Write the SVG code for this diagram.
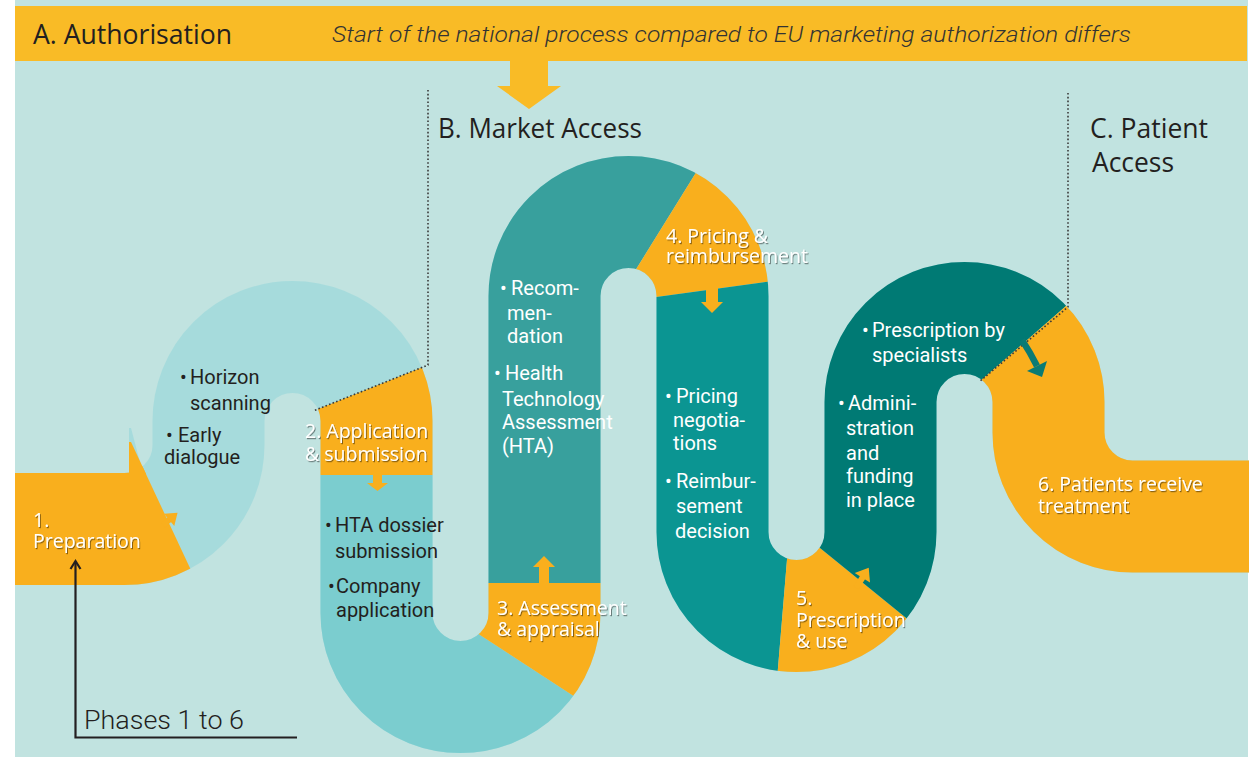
<svg xmlns="http://www.w3.org/2000/svg" width="1256" height="757" viewBox="0 0 1256 757">
<style>
.or{fill:#F9AF1D}
.t1{font-family:Roboto,'Liberation Sans',sans-serif;font-size:20px}
.dk{fill:#231F20}
.wt{fill:#ffffff}
.ph{font-family:'Open Sans','Liberation Sans',sans-serif;font-size:19.5px;fill:#ffffff}
.hd{font-family:'Open Sans','Liberation Sans',sans-serif;font-size:27px;fill:#231F20}
.dot{fill:none;stroke:#3a3a3a;stroke-width:1.6;stroke-dasharray:1.6 2.2}
</style>
<defs>
<mask id="rib" maskUnits="userSpaceOnUse" x="0" y="0" width="1256" height="757">
<path d="M15,529 H124.5 A84,84 0 0 0 208.5,445 V421 A84,84 0 0 1 376.5,421 V613 A84,84 0 0 0 544.5,613 V296 A84,84 0 0 1 712.5,296 V532 A84,84 0 0 0 880.5,532 V402 A84,84 0 0 1 1048.5,402 V432.5 A84,84 0 0 0 1132.5,516.5 H1249" fill="none" stroke="#fff" stroke-width="112"/>
</mask>
<filter id="sh" x="-10%" y="-30%" width="120%" height="160%">
<feDropShadow dx="1" dy="1.2" stdDeviation="0.7" flood-color="#000" flood-opacity="0.45"/>
</filter>
</defs>

<rect x="0" y="0" width="1256" height="757" fill="#ffffff"/>
<rect x="15" y="0" width="1233" height="757" fill="#C1E3E0"/>

<g id="banner">
<rect x="15" y="6" width="1232" height="55" fill="#F9BB26"/>
<polygon points="510,60 548,60 548,86 561,86 529,109 497,86 510,86" fill="#F9BB26"/>
<text class="hd" x="33" y="44" textLength="199" lengthAdjust="spacingAndGlyphs">A. Authorisation</text>
<text x="332" y="42" font-family="Roboto,'Liberation Sans',sans-serif" font-weight="300" font-style="italic" font-size="22.5" fill="#333333" textLength="799" lengthAdjust="spacingAndGlyphs">Start of the national process compared to EU marketing authorization differs</text>
</g>

<g id="section-labels">
<text class="hd" x="438" y="138" textLength="204" lengthAdjust="spacingAndGlyphs">B. Market Access</text>
<text class="hd" x="1090" y="138" textLength="118" lengthAdjust="spacingAndGlyphs">C. Patient</text>
<text class="hd" x="1092" y="172" textLength="82" lengthAdjust="spacingAndGlyphs">Access</text>
</g>

<g id="arc1-horizon">
<rect x="0" y="0" width="1256" height="757" fill="#A6DBDC" mask="url(#rib)"/>
<polygon points="129,443 129,428 131,428 141,466 137,466" fill="#A6DBDC"/>
<text class="t1 dk"><tspan x="180" y="384">•</tspan><tspan x="190" y="384">Horizon</tspan><tspan x="190" y="410">scanning</tspan><tspan x="166" y="442">•</tspan><tspan x="178" y="442">Early</tspan><tspan x="164" y="464">dialogue</tspan></text>
</g>

<g id="phase1">
<polygon class="or" points="0,300 64.5,300 251.8,700 0,700" mask="url(#rib)"/>
<polygon class="or" points="129,474 129,442 131,442 146,474"/>
<text class="ph" filter="url(#sh)"><tspan x="33" y="527">1.</tspan><tspan x="33" y="548">Preparation</tspan></text>
</g>

<g id="phase2">
<polygon class="or" points="300,416.2 460,352.2 460,475 300,475" mask="url(#rib)"/>
<text class="ph" filter="url(#sh)"><tspan x="305" y="438">2. Application</tspan><tspan x="305" y="461">&amp; submission</tspan></text>
</g>

<g id="u2-dossier">
<polygon points="300,475 470,475 470,628.5 620,726.3 620,760 300,760" fill="#7BCDCF" mask="url(#rib)"/>
<text class="t1 dk"><tspan x="325" y="532">•</tspan><tspan x="335" y="532">HTA dossier</tspan><tspan x="335" y="558">submission</tspan><tspan x="328" y="593">•</tspan><tspan x="336" y="593">Company</tspan><tspan x="336" y="617">application</tspan></text>
</g>

<g id="phase3">
<polygon class="or" points="470,583 620,583 620,726.3 470,628.5" mask="url(#rib)"/>
<text class="ph" filter="url(#sh)"><tspan x="497" y="615">3. Assessment</tspan><tspan x="497" y="636">&amp; appraisal</tspan></text>
</g>

<g id="arc3-hta">
<polygon points="470,583 620,583 617,300 741,100 470,100" fill="#38A09D" mask="url(#rib)"/>
<text class="t1 wt"><tspan x="500" y="295">•</tspan><tspan x="511" y="295">Recom-</tspan><tspan x="507" y="320">men-</tspan><tspan x="507" y="343">dation</tspan><tspan x="494" y="380">•</tspan><tspan x="505" y="380">Health</tspan><tspan x="502" y="406">Technology</tspan><tspan x="502" y="429">Assessment</tspan><tspan x="502" y="453">(HTA)</tspan></text>
</g>

<g id="phase4">
<polygon class="or" points="617,300 741,100 800,100 800,277.3 620,302" mask="url(#rib)"/>
<text class="ph" filter="url(#sh)"><tspan x="666" y="243">4. Pricing &amp;</tspan><tspan x="666" y="263">reimbursement</tspan></text>
</g>

<g id="u4-pricing">
<polygon points="620,302 800,277.3 800,520 790.3,520 775.3,700 620,700" fill="#0B9592" mask="url(#rib)"/>
<text class="t1 wt"><tspan x="665" y="403">•</tspan><tspan x="676" y="403">Pricing</tspan><tspan x="673" y="427">negotia-</tspan><tspan x="673" y="450">tions</tspan><tspan x="665" y="488">•</tspan><tspan x="676" y="488">Reimbur-</tspan><tspan x="676" y="513">sement</tspan><tspan x="675" y="538">decision</tspan></text>
</g>

<g id="phase5">
<polygon class="or" points="790.3,520 800,531.8 960,661.8 960,720 773.7,720" mask="url(#rib)"/>
<text class="ph" filter="url(#sh)"><tspan x="796" y="605">5.</tspan><tspan x="796" y="627">Prescription</tspan><tspan x="796" y="648">&amp; use</tspan></text>
</g>

<g id="arc5-prescription">
<polygon points="800,531.8 800,200 1187.3,200 964.1,395 960,661.8" fill="#007A74" mask="url(#rib)"/>
<text class="t1 wt"><tspan x="862" y="337">•</tspan><tspan x="872" y="337">Prescription by</tspan><tspan x="872" y="362">specialists</tspan><tspan x="838" y="410">•</tspan><tspan x="848" y="410">Admini-</tspan><tspan x="846" y="435">stration</tspan><tspan x="846" y="460">and</tspan><tspan x="846" y="483">funding</tspan><tspan x="846" y="507">in place</tspan></text>
</g>

<g id="phase6">
<polygon class="or" points="1187.3,200 1260,200 1260,760 960,760 964.1,395" mask="url(#rib)"/>
<text class="ph" filter="url(#sh)"><tspan x="1038" y="491">6. Patients receive</tspan><tspan x="1038" y="513">treatment</tspan></text>
</g>

<g id="connectors">
<path class="dot" d="M428,90 V365 L313,411"/>
<path class="dot" d="M1068,93 V307 L979,382"/>
<g transform="translate(163,525) rotate(-40)" class="or"><rect x="0" y="-3" width="10" height="6"/><polygon points="8,-8 19,0 8,8"/></g>
<g class="or"><rect x="373" y="474" width="9" height="10"/><polygon points="367,483 388,483 377.5,491"/></g>
<g class="or"><rect x="539" y="566" width="10" height="18"/><polygon points="533,567 555,567 544,556"/></g>
<g class="or"><rect x="706" y="287" width="12" height="16"/><polygon points="701,302 723,302 712,313"/></g>
<g transform="translate(856,588) rotate(-58)" class="or"><rect x="0" y="-3" width="14" height="6"/><polygon points="12,-9 24,0 12,9"/></g>
<path d="M1022,340 Q1030,352 1037,366" fill="none" stroke="#0A7B74" stroke-width="6.5"/>
<polygon points="1027,371 1047,361 1042,377" fill="#0A7B74"/>
<path d="M297,737.5 H75.5 V562" fill="none" stroke="#231F20" stroke-width="2.2"/>
<polyline points="70.5,569 75.5,561 80.5,569" fill="none" stroke="#231F20" stroke-width="2.2"/>
</g>

<g id="phases-label">
<text x="84" y="729" font-family="Roboto,'Liberation Sans',sans-serif" font-weight="300" font-size="26" fill="#231F20" textLength="160" lengthAdjust="spacingAndGlyphs">Phases 1 to 6</text>
</g>
</svg>
